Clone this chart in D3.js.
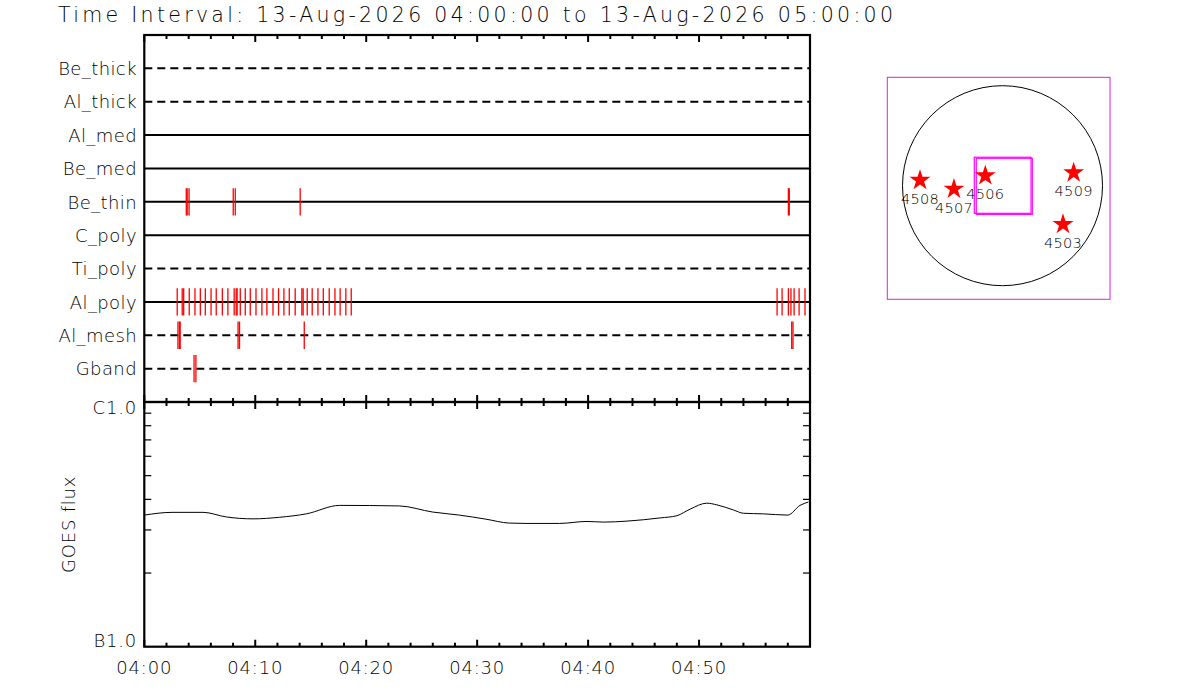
<!DOCTYPE html>
<html>
<head>
<meta charset="utf-8">
<script src="https://cdn.jsdelivr.net/npm/d3@7"></script>
<style>
  body { margin: 0; background: #fff; }
  text { font-family: "DejaVu Sans", sans-serif; font-weight: 200; fill: #000; }
</style>
</head>
<body>
<div id="chart"></div>
<script>
const titleText = "Time Interval: 13-Aug-2026 04:00:00 to 13-Aug-2026 05:00:00";
const day = "2026-08-13";
const startTime = "04:00:00";
const endTime = "05:00:00";

const channels = ["Be_thick", "Al_thick", "Al_med", "Be_med", "Be_thin", "C_poly", "Ti_poly", "Al_poly", "Al_mesh", "Gband"];
// channels drawn dashed (not used in this interval)
const inactiveChannels = ["Be_thick", "Al_thick", "Ti_poly", "Al_mesh", "Gband"];

// exposure times per channel
const beThinTimes = ["04:03:47", "04:03:52", "04:04:02", "04:08:01", "04:08:12", "04:14:03", "04:58:03", "04:58:08"];
const alPolyTimes = ["04:02:58", "04:03:25", "04:03:33", "04:04:03", "04:04:34", "04:05:03", "04:05:30", "04:06:01",
    "04:06:29", "04:07:02", "04:07:32", "04:08:06", "04:08:17", "04:08:22", "04:08:39", "04:09:06", "04:09:33",
    "04:10:04", "04:10:36", "04:11:03", "04:11:36", "04:12:06", "04:12:35", "04:13:04", "04:13:36", "04:14:12",
    "04:14:19", "04:14:41", "04:15:08", "04:15:39", "04:16:08", "04:16:40", "04:17:11", "04:17:39", "04:18:10",
    "04:18:39", "04:57:02", "04:57:29", "04:58:03", "04:58:17", "04:58:34", "04:59:01", "04:59:33"];
const alMeshTimes = ["04:03:02", "04:03:10", "04:03:14", "04:08:27", "04:08:35", "04:14:25", "04:58:21", "04:58:28"];
const gbandTimes = ["04:04:29", "04:04:39"];

// GOES 1-8 A flux
const goesTimes = ["04:00:00", "04:02:30", "04:05:18", "04:07:24", "04:09:48", "04:12:12", "04:14:36", "04:17:36",
    "04:23:00", "04:26:00", "04:28:24", "04:30:48", "04:32:54", "04:34:24", "04:37:24", "04:39:54", "04:41:24",
    "04:43:30", "04:46:30", "04:48:00", "04:49:12", "04:50:42", "04:51:36", "04:53:06", "04:54:00", "04:55:48",
    "04:58:00", "04:59:06", "04:59:51"];
const goesFlux = [3.45e-7, 3.54e-7, 3.54e-7, 3.39e-7, 3.33e-7, 3.38e-7, 3.49e-7, 3.78e-7,
    3.76e-7, 3.55e-7, 3.45e-7, 3.32e-7, 3.20e-7, 3.19e-7, 3.19e-7, 3.25e-7, 3.23e-7,
    3.26e-7, 3.36e-7, 3.43e-7, 3.65e-7, 3.86e-7, 3.80e-7, 3.62e-7, 3.51e-7, 3.49e-7,
    3.45e-7, 3.78e-7, 3.90e-7];
const goesRange = [1e-7, 1e-6];
const goesClassLabels = ["B1.0", "C1.0"];

// active regions on the disk (arcsec)
const regionNames = ["4508", "4507", "4506", "4509", "4503"];
const regionX = [-792, -466, -165, 683, 581];
const regionY = [52, -32, 96, 124, -371];
const solarRadius = 960;
// XRT field of view boxes [x0, x1, y0, y1] arcsec
const fovBoxes = [[-271, 274, 273, -265], [-252, 286, 263, -275]];

const width = 1200;
const height = 700;

const svg = d3.select("#chart").append("svg")
    .attr("width", width)
    .attr("height", height);

const parse = d3.utcParse("%Y-%m-%d %H:%M:%S");
const t = s => parse(day + " " + s);

const left = 144.3, right = 810;
const topY = 35, midY = 402, botY = 646.7;

const x = d3.scaleUtc()
    .domain([t(startTime), t(endTime)])
    .range([left, right]);

const y = d3.scalePoint()
    .domain(channels)
    .range([topY, midY])
    .padding(1);

const yFlux = d3.scaleLog()
    .domain(goesRange)
    .range([botY, midY]);

// title
svg.append("text")
    .attr("x", 58)
    .attr("y", 22)
    .attr("font-size", 20.5)
    .attr("textLength", 835)
    .attr("lengthAdjust", "spacing")
    .text(titleText);

// channel lines
svg.selectAll(".chan")
    .data(channels)
    .enter()
    .append("line")
    .attr("x1", left)
    .attr("x2", right)
    .attr("y1", d => y(d))
    .attr("y2", d => y(d))
    .attr("stroke", "#000")
    .attr("stroke-width", 2)
    .attr("stroke-dasharray", d => inactiveChannels.includes(d) ? "8,5" : null);

svg.selectAll(".chanLabel")
    .data(channels)
    .enter()
    .append("text")
    .attr("x", 137)
    .attr("y", d => y(d) + 6.7)
    .attr("text-anchor", "end")
    .attr("font-size", 18)
    .attr("letter-spacing", 0.4)
    .text(d => d);

// exposures
const events = [
    { chan: "Be_thin", times: beThinTimes },
    { chan: "Al_poly", times: alPolyTimes },
    { chan: "Al_mesh", times: alMeshTimes },
    { chan: "Gband", times: gbandTimes }
];
const half = y.step() * 0.41;
events.forEach(ev => {
    svg.selectAll(null)
        .data(ev.times)
        .enter()
        .append("line")
        .attr("x1", d => x(t(d)))
        .attr("x2", d => x(t(d)))
        .attr("y1", y(ev.chan) - half)
        .attr("y2", y(ev.chan) + half)
        .attr("stroke", "#ff0000")
        .attr("stroke-width", 1.3);
});

// GOES curve
const goes = goesTimes.map((d, i) => ({ time: t(d), flux: goesFlux[i] }));
svg.append("path")
    .datum(goes)
    .attr("fill", "none")
    .attr("stroke", "#000")
    .attr("stroke-width", 1)
    .attr("d", d3.line().x(d => x(d.time)).y(d => yFlux(d.flux)).curve(d3.curveMonotoneX));

// x ticks on each horizontal border
const minorTicks = x.ticks(d3.utcMinute.every(2));
const majorTicks = x.ticks(d3.utcMinute.every(10));
[[topY, 1], [midY, -1], [midY, 1], [botY, -1]].forEach(([yy, dir]) => {
    svg.selectAll(null)
        .data(minorTicks)
        .enter()
        .append("line")
        .attr("x1", d => x(d))
        .attr("x2", d => x(d))
        .attr("y1", yy)
        .attr("y2", d => yy + dir * (majorTicks.some(m => +m === +d) ? 7 : 4))
        .attr("stroke", "#000")
        .attr("stroke-width", 2);
});

svg.selectAll(".xlab")
    .data(majorTicks.filter(d => x(d) < right - 5))
    .enter()
    .append("text")
    .attr("x", d => x(d))
    .attr("y", 674)
    .attr("text-anchor", "middle")
    .attr("font-size", 18)
    .attr("letter-spacing", 0.8)
    .text(d3.utcFormat("%H:%M"));

// log ticks for flux
const fluxTicks = yFlux.ticks().filter(d => d > goesRange[0] && d < goesRange[1]);
[[left, 1], [right, -1]].forEach(([xx, dir]) => {
    svg.selectAll(null)
        .data(fluxTicks)
        .enter()
        .append("line")
        .attr("x1", xx)
        .attr("x2", xx + dir * 7)
        .attr("y1", d => yFlux(d))
        .attr("y2", d => yFlux(d))
        .attr("stroke", "#000")
        .attr("stroke-width", 1.2);
});

svg.append("text")
    .attr("x", 137)
    .attr("y", yFlux(goesRange[1]) + 12)
    .attr("text-anchor", "end")
    .attr("font-size", 18)
    .attr("letter-spacing", 0.8)
    .text(goesClassLabels[1]);
svg.append("text")
    .attr("x", 137)
    .attr("y", yFlux(goesRange[0]))
    .attr("text-anchor", "end")
    .attr("font-size", 18)
    .attr("letter-spacing", 0.8)
    .text(goesClassLabels[0]);

svg.append("text")
    .attr("transform", `translate(75,${(midY + botY) / 2}) rotate(-90)`)
    .attr("text-anchor", "middle")
    .attr("font-size", 18)
    .attr("letter-spacing", 0.8)
    .text("GOES flux");

// panel frames
svg.append("rect")
    .attr("x", left).attr("y", topY)
    .attr("width", right - left).attr("height", midY - topY)
    .attr("fill", "none").attr("stroke", "#000").attr("stroke-width", 2.2);
svg.append("rect")
    .attr("x", left).attr("y", midY)
    .attr("width", right - left).attr("height", botY - midY)
    .attr("fill", "none").attr("stroke", "#000").attr("stroke-width", 2.2);

// solar disk panel
const xd = d3.scaleLinear().domain([-1106, 1032]).range([887.3, 1110]);
const yd = d3.scaleLinear().domain([1040, -1090]).range([77.3, 299.3]);

svg.append("rect")
    .attr("x", xd.range()[0]).attr("y", yd.range()[0])
    .attr("width", xd.range()[1] - xd.range()[0])
    .attr("height", yd.range()[1] - yd.range()[0])
    .attr("fill", "none").attr("stroke", "#e01ee0").attr("stroke-width", 1);

svg.append("circle")
    .attr("cx", xd(0)).attr("cy", yd(0))
    .attr("r", xd(solarRadius) - xd(0))
    .attr("fill", "none").attr("stroke", "#000").attr("stroke-width", 1);

svg.selectAll(".fov")
    .data(fovBoxes)
    .enter()
    .append("rect")
    .attr("x", d => xd(d[0])).attr("y", d => yd(d[2]))
    .attr("width", d => xd(d[1]) - xd(d[0]))
    .attr("height", d => yd(d[3]) - yd(d[2]))
    .attr("fill", "none").attr("stroke", "#ff00ff").attr("stroke-width", 1.2);

const star = d3.symbol().type(d3.symbolStar).size(136);
svg.selectAll(".ar")
    .data(regionNames)
    .enter()
    .append("path")
    .attr("transform", (d, i) => `translate(${xd(regionX[i])},${yd(regionY[i])})`)
    .attr("d", star)
    .attr("fill", "#ff0000");

svg.selectAll(".arLabel")
    .data(regionNames)
    .enter()
    .append("text")
    .attr("x", (d, i) => xd(regionX[i]))
    .attr("y", (d, i) => yd(regionY[i]) + 23.5)
    .attr("text-anchor", "middle")
    .attr("font-size", 14.5)
    .attr("letter-spacing", 0.3)
    .text(d => d);
</script>
</body>
</html>
